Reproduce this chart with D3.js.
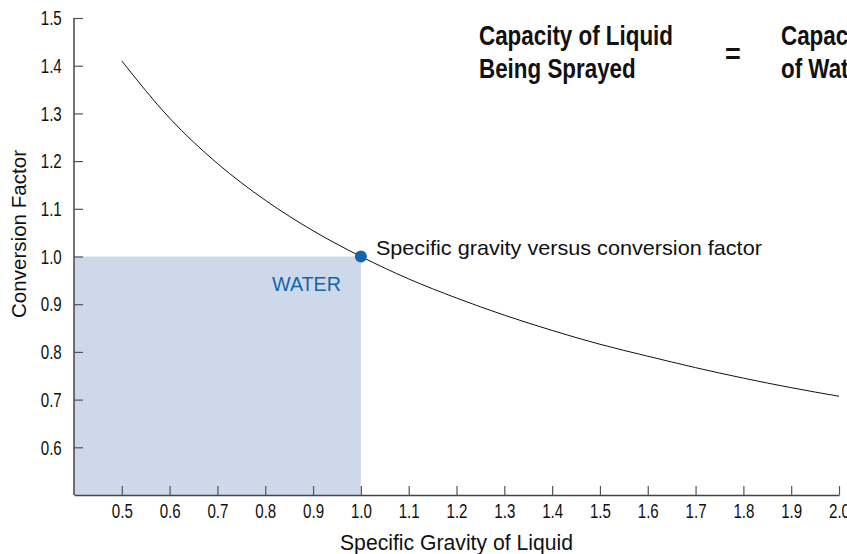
<!DOCTYPE html>
<html>
<head>
<meta charset="utf-8">
<script src="https://cdn.jsdelivr.net/npm/d3@7.9.0/dist/d3.min.js"></script>
<style>
  body { margin: 0; background: #fff; }
  svg text { font-family: "Liberation Sans", Arial, sans-serif; fill: #111; }
</style>
</head>
<body>
<svg id="chart" width="847" height="554"></svg>
<script>
// values
const gravity = [0.5, 0.6, 0.7, 0.8, 0.9, 1.0, 1.1, 1.2, 1.3, 1.4, 1.5, 1.6, 1.7, 1.8, 1.9, 2.0];
const factor  = [1.41, 1.29, 1.195, 1.118, 1.054, 1.0, 0.953, 0.913, 0.877, 0.845, 0.816, 0.791, 0.767, 0.745, 0.725, 0.707];
const xTicks = [0.5, 0.6, 0.7, 0.8, 0.9, 1.0, 1.1, 1.2, 1.3, 1.4, 1.5, 1.6, 1.7, 1.8, 1.9, 2.0];
const yTicks = [0.6, 0.7, 0.8, 0.9, 1.0, 1.1, 1.2, 1.3, 1.4, 1.5];
const water = { sg: 1.0, cf: 1.0 };

const svg = d3.select('#chart');

let x = d3.scaleLinear().domain([0.4, 2.0]).range([74, 839]);
let y = d3.scaleLinear().domain([0.5, 1.5]).range([495, 18]);

// squeeze a text to a given width (the original face is a condensed one)
function fit(sel, w) {
  sel.attr('textLength', w).attr('lengthAdjust', 'spacingAndGlyphs');
  return sel;
}

// water box
svg.append('rect')
  .attr('x', x(0.4))
  .attr('y', y(water.cf))
  .attr('width', x(water.sg) - x(0.4))
  .attr('height', y(0.5) - y(water.cf))
  .attr('fill', '#cdd9ea');

// axes
let xAxis = svg.append('g')
  .attr('transform', `translate(0,${y(0.5)})`)
  .call(d3.axisBottom(x).tickValues(xTicks).tickFormat(d3.format('.1f')).tickSizeInner(-9).tickSizeOuter(0).tickPadding(8));

let yAxis = svg.append('g')
  .attr('transform', `translate(${x(0.4)},0)`)
  .call(d3.axisLeft(y).tickValues(yTicks).tickFormat(d3.format('.1f')).tickSizeInner(-9).tickSizeOuter(0).tickPadding(17));

[xAxis, yAxis].forEach(g => {
  g.select('.domain').attr('stroke', '#444').attr('stroke-width', 1.5);
  g.selectAll('.tick line').attr('stroke', '#555').attr('stroke-width', 1.2);
  g.selectAll('.tick text')
    .style('font-size', '21px')
    .attr('transform', 'scale(0.72,1)')
    .style('fill', '#111');
});
// y axis line reaches the top tick
yAxis.select('.domain').attr('d', `M0,${y(1.5)}V${y(0.5)}`);

// curve
let line = d3.line()
  .x((d, i) => x(gravity[i]))
  .y(d => y(d))
  .curve(d3.curveMonotoneX);

svg.append('path')
  .datum(factor)
  .attr('d', line)
  .attr('fill', 'none')
  .attr('stroke', '#111')
  .attr('stroke-width', 1);

// water point
svg.append('circle')
  .attr('cx', x(water.sg))
  .attr('cy', y(water.cf))
  .attr('r', 6)
  .attr('fill', '#1565a8');

fit(svg.append('text')
  .attr('x', x(water.sg) + 15)
  .attr('y', y(water.cf) - 2)
  .attr('font-size', 21)
  .text('Specific gravity versus conversion factor'), 386);

fit(svg.append('text')
  .attr('x', 272)
  .attr('y', 291)
  .attr('font-size', 21)
  .style('fill', '#1565a8')
  .text('WATER'), 69);

// axis titles
fit(svg.append('text')
  .attr('x', 340)
  .attr('y', 550)
  .attr('font-size', 22)
  .text('Specific Gravity of Liquid'), 233);

fit(svg.append('text')
  .attr('transform', 'translate(26,318) rotate(-90)')
  .attr('font-size', 21)
  .text('Conversion Factor'), 168);

// formula heading
let head = svg.append('g').attr('font-weight', 'bold').attr('font-size', 27);
let l1 = head.append('text').attr('x', 479).attr('y', 45).text('Capacity of Liquid');
let k = 194 / l1.node().getComputedTextLength();
fit(l1, 194);
let l2 = head.append('text').attr('x', 479).attr('y', 78).text('Being Sprayed');
fit(l2, l2.node().getComputedTextLength() * k);
head.append('text').attr('x', 733).attr('y', 63).attr('text-anchor', 'middle').text('=');
let r1 = head.append('text').attr('x', 781).attr('y', 45).text('Capacity');
fit(r1, r1.node().getComputedTextLength() * k);
let r2 = head.append('text').attr('x', 781).attr('y', 78).text('of Water');
fit(r2, r2.node().getComputedTextLength() * k);
</script>
</body>
</html>
